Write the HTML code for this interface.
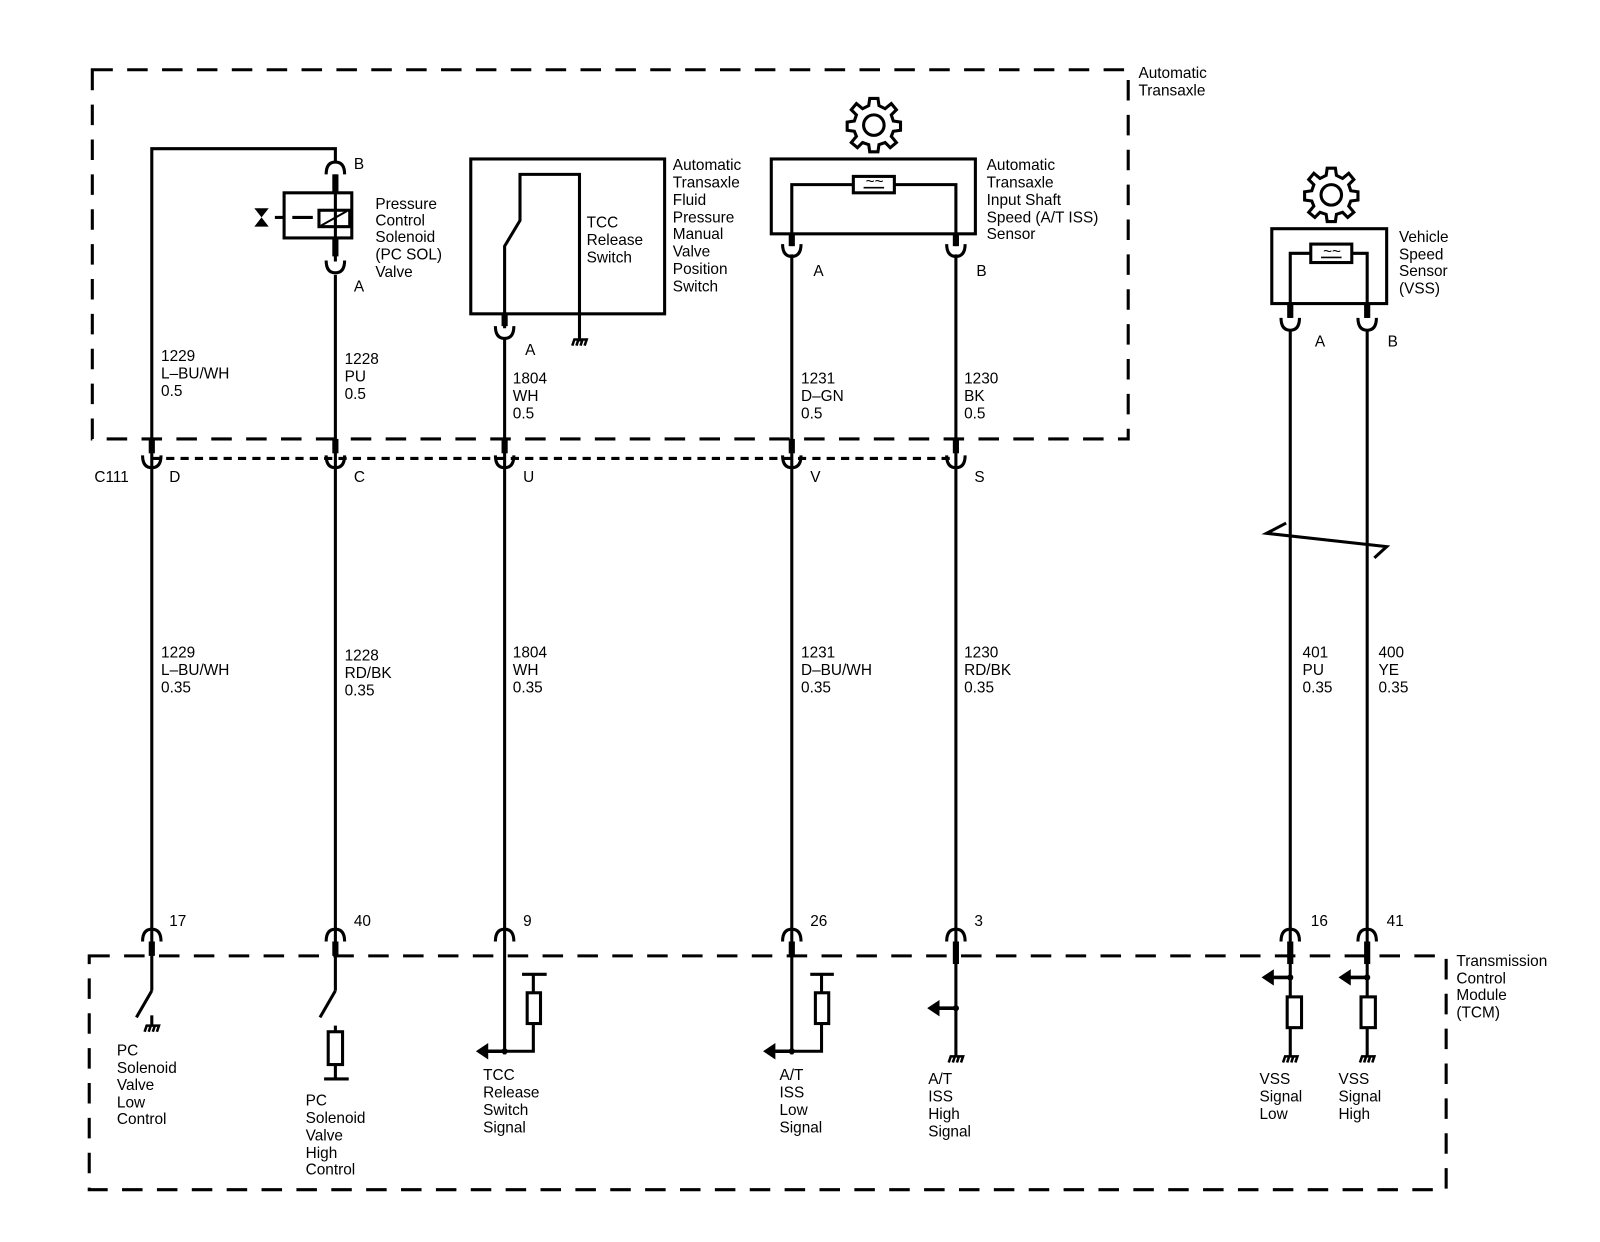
<!DOCTYPE html>
<html><head><meta charset="utf-8"><style>
html,body{margin:0;padding:0;background:#fff;}
svg{display:block;}
text{font-family:"Liberation Sans",sans-serif;font-size:15px;fill:#000;}
</style></head><body>
<svg width="1600" height="1242" viewBox="0 0 1560 1211" preserveAspectRatio="none" xmlns="http://www.w3.org/2000/svg">
<defs>
<g id="cupU"><path d="M-9,-6 Q-9,6 0,6 Q9,6 9,-6" fill="none" stroke="#000" stroke-width="3"/></g>
<g id="cupD"><path d="M-9,6 Q-9,-6 0,-6 Q9,-6 9,6" fill="none" stroke="#000" stroke-width="3"/></g>
<g id="gnd"><path d="M-7,4 L-5,-2 L7,-2 L5,4 M-3,4 L-1,-2 M1,4 L3,-2" stroke="#000" stroke-width="2.5" fill="none"/></g>
<g id="gear"><path d="M-4,-26 L4,-26 L5,-19 L11,-16 L17,-21 L22,-15 L17,-10 L19,-4 L26,-3 L26,5 L19,6 L17,11 L22,17 L16,22 L11,17 L5,19 L4,26 L-4,26 L-5,19 L-11,17 L-16,22 L-22,17 L-17,11 L-19,6 L-26,5 L-26,-3 L-19,-4 L-17,-10 L-22,-15 L-17,-21 L-11,-16 L-5,-19 Z" fill="none" stroke="#000" stroke-width="3"/><circle r="10" fill="none" stroke="#000" stroke-width="3"/></g>
<g id="arrL"><path d="M0,0 L-20,0" stroke="#000" stroke-width="3.5"/><path d="M-28,0 L-16,-8 L-16,8 Z" fill="#000"/><circle r="3" fill="#000"/></g>
</defs>
<g fill="none" stroke="#000">
<rect x="90" y="68" width="1010" height="360" stroke-width="3" stroke-dasharray="20,14"/>
<rect x="87" y="932" width="1323" height="228" stroke-width="3" stroke-dasharray="20,14"/>
<line x1="148" y1="447" x2="932" y2="447" stroke-width="3" stroke-dasharray="8,6"/>
<g stroke-width="3">
<path d="M327,158 L327,145 L148,145 L148,966"/>
<line x1="327" y1="170" x2="327" y2="255"/>
<line x1="327" y1="268" x2="327" y2="966"/>
<rect x="277" y="188" width="66" height="44"/>
<rect x="311" y="205" width="30" height="16"/>
<line x1="313" y1="220" x2="338" y2="206" stroke-width="2"/>
<line x1="277" y1="212" x2="268" y2="212"/><line x1="305" y1="212" x2="285" y2="212"/>
<rect x="459" y="155" width="189" height="151"/>
<path d="M492,320 L492,240 L507,215 L507,170 L565,170 L565,333"/>
<line x1="492" y1="330" x2="492" y2="1028"/>
<rect x="752" y="155" width="199" height="73"/>
<path d="M772,240 L772,180 L932,180 L932,240"/>
<line x1="772" y1="248" x2="772" y2="1028"/>
<line x1="932" y1="248" x2="932" y2="1030"/>
<rect x="832" y="172" width="40" height="16" fill="#fff"/>
<rect x="1240" y="223" width="112" height="73"/>
<path d="M1258,310 L1258,247 L1333,247 L1333,310"/>
<line x1="1258" y1="322" x2="1258" y2="1030"/>
<line x1="1333" y1="322" x2="1333" y2="1030"/>
<rect x="1278" y="238" width="40" height="18" fill="#fff"/>
<path d="M1254,510 L1235,520 L1352,533 L1340,544" stroke-width="3"/>
</g>
<g stroke-width="6">
<line x1="327" y1="170" x2="327" y2="188"/><line x1="327" y1="232" x2="327" y2="250"/>
<line x1="492" y1="306" x2="492" y2="318"/>
<line x1="772" y1="228" x2="772" y2="240"/><line x1="932" y1="228" x2="932" y2="240"/>
<line x1="1258" y1="296" x2="1258" y2="310"/><line x1="1333" y1="296" x2="1333" y2="310"/>
<line x1="148" y1="428" x2="148" y2="442"/><line x1="327" y1="428" x2="327" y2="442"/><line x1="492" y1="428" x2="492" y2="442"/><line x1="772" y1="428" x2="772" y2="442"/><line x1="932" y1="428" x2="932" y2="442"/>
<line x1="148" y1="918" x2="148" y2="932"/><line x1="327" y1="918" x2="327" y2="932"/><line x1="772" y1="918" x2="772" y2="932"/><line x1="932" y1="918" x2="932" y2="940"/><line x1="1258" y1="918" x2="1258" y2="940"/><line x1="1333" y1="918" x2="1333" y2="940"/>
</g>
<g stroke-width="3">
<line x1="148" y1="966" x2="133" y2="992"/>
<line x1="148" y1="990" x2="148" y2="1000"/>
<line x1="327" y1="966" x2="312" y2="992"/>
<line x1="327" y1="1000" x2="327" y2="1052"/>
<line x1="316" y1="1052" x2="340" y2="1052"/>
<rect x="320" y="1006" width="14" height="32" fill="#fff"/>
<path d="M492,1025 L520,1025 L520,950"/><line x1="509" y1="950" x2="533" y2="950"/>
<rect x="514" y="968" width="13" height="30" fill="#fff"/>
<path d="M772,1025 L801,1025 L801,950"/><line x1="790" y1="950" x2="813" y2="950"/>
<rect x="795" y="968" width="13" height="30" fill="#fff"/>
<rect x="1255" y="972" width="14" height="30" fill="#fff"/>
<rect x="1327" y="972" width="14" height="30" fill="#fff"/>
</g>
</g>
<path d="M248,203 L262,203 L255,212 L262,221 L248,221 L255,212 Z" fill="#000"/>
<use href="#gear" x="852" y="122"/>
<use href="#gear" x="1298" y="190"/>
<g stroke="#000" stroke-width="1.5"><line x1="842" y1="183" x2="862" y2="183"/><line x1="1288" y1="251" x2="1308" y2="251"/></g>
<text x="844" y="182" font-size="9">~~</text><text x="1290" y="250" font-size="9">~~</text>
<use href="#cupD" x="327" y="164"/>
<use href="#cupU" x="327" y="260"/>
<use href="#cupU" x="492" y="324"/>
<use href="#cupU" x="772" y="244"/><use href="#cupU" x="932" y="244"/>
<use href="#cupU" x="1258" y="316"/><use href="#cupU" x="1333" y="316"/>
<use href="#cupU" x="148" y="450"/><use href="#cupU" x="327" y="450"/><use href="#cupU" x="492" y="450"/><use href="#cupU" x="772" y="450"/><use href="#cupU" x="932" y="450"/>
<use href="#cupD" x="148" y="912"/><use href="#cupD" x="327" y="912"/><use href="#cupD" x="492" y="912"/><use href="#cupD" x="772" y="912"/><use href="#cupD" x="932" y="912"/><use href="#cupD" x="1258" y="912"/><use href="#cupD" x="1333" y="912"/>
<use href="#gnd" x="565" y="333"/>
<use href="#gnd" x="148" y="1002"/>
<use href="#gnd" x="932" y="1032"/><use href="#gnd" x="1258" y="1032"/><use href="#gnd" x="1333" y="1032"/>
<use href="#arrL" x="492" y="1025"/><use href="#arrL" x="772" y="1025"/>
<use href="#arrL" x="932" y="983"/><use href="#arrL" x="1258" y="953"/><use href="#arrL" x="1333" y="953"/>
<text x="1110" y="76">Automatic</text><text x="1110" y="93">Transaxle</text>
<text x="345" y="165">B</text><text x="345" y="284">A</text>
<text x="366" y="204">Pressure</text><text x="366" y="220">Control</text><text x="366" y="236">Solenoid</text><text x="366" y="253">(PC SOL)</text><text x="366" y="270">Valve</text>
<text x="572" y="222">TCC</text><text x="572" y="239">Release</text><text x="572" y="256">Switch</text>
<text x="656" y="166">Automatic</text><text x="656" y="183">Transaxle</text><text x="656" y="200">Fluid</text><text x="656" y="217">Pressure</text><text x="656" y="233">Manual</text><text x="656" y="250">Valve</text><text x="656" y="267">Position</text><text x="656" y="284">Switch</text>
<text x="512" y="346">A</text>
<text x="962" y="166">Automatic</text><text x="962" y="183">Transaxle</text><text x="962" y="200">Input Shaft</text><text x="962" y="217">Speed (A/T ISS)</text><text x="962" y="233">Sensor</text>
<text x="793" y="269">A</text><text x="952" y="269">B</text>
<text x="1364" y="236">Vehicle</text><text x="1364" y="253">Speed</text><text x="1364" y="269">Sensor</text><text x="1364" y="286">(VSS)</text>
<text x="1282" y="338">A</text><text x="1353" y="338">B</text>
<text x="157" y="352">1229</text><text x="157" y="369">L–BU/WH</text><text x="157" y="386">0.5</text>
<text x="336" y="355">1228</text><text x="336" y="372">PU</text><text x="336" y="389">0.5</text>
<text x="500" y="374">1804</text><text x="500" y="391">WH</text><text x="500" y="408">0.5</text>
<text x="781" y="374">1231</text><text x="781" y="391">D–GN</text><text x="781" y="408">0.5</text>
<text x="940" y="374">1230</text><text x="940" y="391">BK</text><text x="940" y="408">0.5</text>
<text x="92" y="470">C111</text><text x="165" y="470">D</text><text x="345" y="470">C</text><text x="510" y="470">U</text><text x="790" y="470">V</text><text x="950" y="470">S</text>
<text x="157" y="641">1229</text><text x="157" y="658">L–BU/WH</text><text x="157" y="675">0.35</text>
<text x="336" y="644">1228</text><text x="336" y="661">RD/BK</text><text x="336" y="678">0.35</text>
<text x="500" y="641">1804</text><text x="500" y="658">WH</text><text x="500" y="675">0.35</text>
<text x="781" y="641">1231</text><text x="781" y="658">D–BU/WH</text><text x="781" y="675">0.35</text>
<text x="940" y="641">1230</text><text x="940" y="658">RD/BK</text><text x="940" y="675">0.35</text>
<text x="1270" y="641">401</text><text x="1270" y="658">PU</text><text x="1270" y="675">0.35</text>
<text x="1344" y="641">400</text><text x="1344" y="658">YE</text><text x="1344" y="675">0.35</text>
<text x="165" y="903">17</text><text x="345" y="903">40</text><text x="510" y="903">9</text><text x="790" y="903">26</text><text x="950" y="903">3</text><text x="1278" y="903">16</text><text x="1352" y="903">41</text>
<text x="1420" y="942">Transmission</text><text x="1420" y="959">Control</text><text x="1420" y="975">Module</text><text x="1420" y="992">(TCM)</text>
<text x="114" y="1029">PC</text><text x="114" y="1046">Solenoid</text><text x="114" y="1063">Valve</text><text x="114" y="1080">Low</text><text x="114" y="1096">Control</text>
<text x="298" y="1078">PC</text><text x="298" y="1095">Solenoid</text><text x="298" y="1112">Valve</text><text x="298" y="1129">High</text><text x="298" y="1145">Control</text>
<text x="471" y="1053">TCC</text><text x="471" y="1070">Release</text><text x="471" y="1087">Switch</text><text x="471" y="1104">Signal</text>
<text x="760" y="1053">A/T</text><text x="760" y="1070">ISS</text><text x="760" y="1087">Low</text><text x="760" y="1104">Signal</text>
<text x="905" y="1057">A/T</text><text x="905" y="1074">ISS</text><text x="905" y="1091">High</text><text x="905" y="1108">Signal</text>
<text x="1228" y="1057">VSS</text><text x="1228" y="1074">Signal</text><text x="1228" y="1091">Low</text>
<text x="1305" y="1057">VSS</text><text x="1305" y="1074">Signal</text><text x="1305" y="1091">High</text>
</svg>
</body></html>
